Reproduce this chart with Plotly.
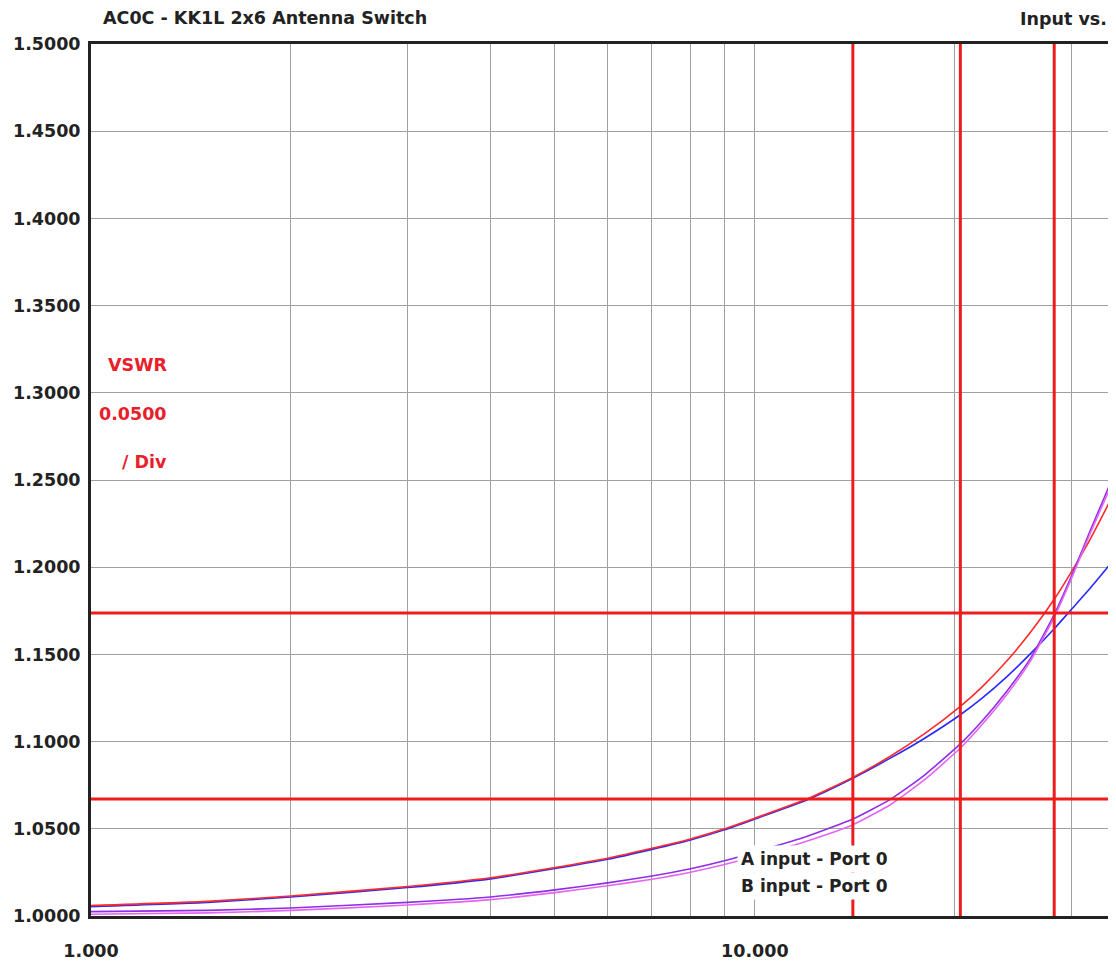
import plotly.graph_objects as go

# ---------------- data ----------------
freq_mhz = [1, 1.5, 2, 3, 4, 5, 6, 7, 8, 9, 10, 12, 14.05, 16, 18, 20.4, 22, 24, 26, 28.25, 30, 32, 35]

vswr_red = [1.0060, 1.0084, 1.0115, 1.0169, 1.0219, 1.0278, 1.0331, 1.0388, 1.0442, 1.0500, 1.0561,
            1.0672, 1.0795, 1.0916, 1.1044, 1.1202, 1.1314, 1.1465, 1.1625, 1.1816, 1.1975, 1.2160, 1.2445]
vswr_blue = [1.0054, 1.0078, 1.0109, 1.0163, 1.0213, 1.0272, 1.0325, 1.0382, 1.0436, 1.0494, 1.0556,
             1.0667, 1.0790, 1.0905, 1.1018, 1.1154, 1.1249, 1.1374, 1.1503, 1.1647, 1.1759, 1.1879, 1.2058]
vswr_violet = [1.0025, 1.0032, 1.0046, 1.0078, 1.0109, 1.0150, 1.0190, 1.0229, 1.0271, 1.0317, 1.0366,
               1.0457, 1.0556, 1.0669, 1.0807, 1.0987, 1.1118, 1.1292, 1.1476, 1.1728, 1.1950, 1.2208, 1.2558]
vswr_magenta = [1.0010, 1.0018, 1.0032, 1.0063, 1.0094, 1.0134, 1.0173, 1.0211, 1.0251, 1.0295, 1.0341,
                1.0430, 1.0523, 1.0638, 1.0780, 1.0963, 1.1098, 1.1273, 1.1460, 1.1714, 1.1936, 1.2193, 1.2532]

series_names = ["A input blue", "A input red", "B input violet", "B input magenta"]
series_values = [vswr_blue, vswr_red, vswr_violet, vswr_magenta]
series_colors = ["#2a2aff", "#ff2a2a", "#8f2ee6", "#e466f0"]

marker_freqs = [14.05, 20.4, 28.25]
marker_vswr = [1.0671, 1.1737]

x_tickvals = [1, 10]
x_ticktext = ["1.000", "10.000"]
x_minor_grid = [2, 3, 4, 5, 6, 7, 8, 9, 20, 30]

title_text = "AC0C - KK1L 2x6 Antenna Switch"
right_title_text = "Input vs."
scale_lines = ["VSWR", "0.0500", "/ Div"]
legend_lines = ["A input - Port 0", "B input - Port 0"]

# ---------------- layout geometry ----------------
# page has an 8px body margin; figure is sized to fill the visible window
OFF = 8
W, H = 1108, 952
L, R, T, B = 83, 0, 36, 44
FONT = "DejaVu Sans"


def px_x(p):
    return (p - OFF - L) / (W - L - R)


def px_y(p):
    return (H - B - (p - OFF)) / (H - T - B)


fig = go.Figure()

for name, vals, col in zip(series_names, series_values, series_colors):
    fig.add_trace(go.Scatter(x=freq_mhz, y=vals, mode="lines", name=name,
                             line=dict(color=col, width=1.6, shape="spline", smoothing=0.5),
                             showlegend=False, hoverinfo="skip"))

for f in marker_freqs:
    fig.add_vline(x=f, line=dict(color="#ee1c1c", width=3), layer="above")
for v in marker_vswr:
    fig.add_hline(y=v, line=dict(color="#ee1c1c", width=3), layer="above")

tickfont = dict(family=FONT, size=17.5, color="#222222", weight="bold")

fig.update_xaxes(type="log", range=[0, 1.5441], tickvals=x_tickvals, ticktext=x_ticktext,
                 showgrid=True, gridcolor="#a0a0a0", gridwidth=1,
                 minor=dict(tickvals=x_minor_grid, showgrid=True, gridcolor="#a0a0a0", gridwidth=1),
                 showline=True, linecolor="#222222", linewidth=3, mirror=True,
                 ticks="outside", ticklen=17, tickcolor="rgba(0,0,0,0)",
                 tickfont=tickfont, zeroline=False, fixedrange=True, automargin=False)

fig.update_yaxes(range=[1.0, 1.5], dtick=0.05, tick0=1.0, tickformat=".4f",
                 showgrid=True, gridcolor="#a0a0a0", gridwidth=1,
                 showline=True, linecolor="#222222", linewidth=3, mirror=False,
                 ticks="outside", ticklen=4, tickcolor="rgba(0,0,0,0)",
                 tickfont=tickfont, zeroline=False, fixedrange=True, automargin=False)

annotations = [
    dict(text=title_text, x=px_x(101), y=px_y(18), xanchor="left", yanchor="middle",
         font=dict(family=FONT, size=17.5, color="#222222", weight="bold")),
    dict(text=right_title_text, x=px_x(1109), y=px_y(19), xanchor="right", yanchor="middle",
         font=dict(family=FONT, size=17.5, color="#222222", weight="bold")),
]
for txt, py in zip(scale_lines, [365, 414, 462]):
    annotations.append(dict(text=txt, x=px_x(169), y=px_y(py), xanchor="right", yanchor="middle",
                            font=dict(family=FONT, size=17.5, color="#e8202a", weight="bold")))
for txt, py in zip(legend_lines, [859, 886]):
    annotations.append(dict(text=txt, x=px_x(892), y=px_y(py), xanchor="right", yanchor="middle",
                            bgcolor="white", borderpad=3,
                            font=dict(family=FONT, size=17, color="#222222", weight="bold")))
for a in annotations:
    a.update(xref="paper", yref="paper", showarrow=False)

fig.update_layout(width=W, height=H, margin=dict(l=L, r=R, t=T, b=B, autoexpand=False),
                  paper_bgcolor="white", plot_bgcolor="white",
                  annotations=annotations, showlegend=False)

fig.write_html("out.html", config={"displayModeBar": False})
